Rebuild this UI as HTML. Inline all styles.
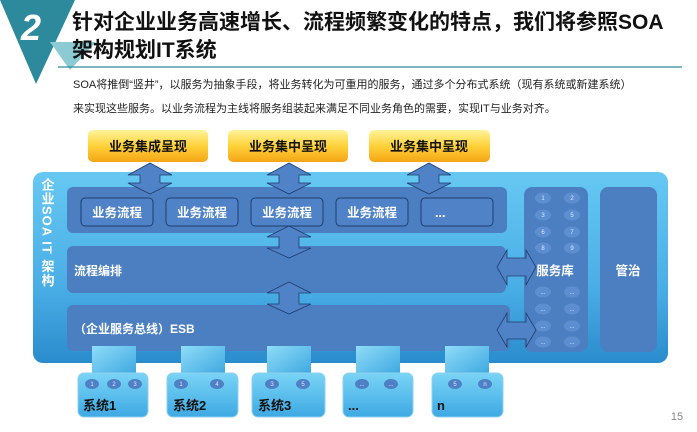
<!DOCTYPE html>
<html><head><meta charset="utf-8"><style>
body{margin:0;width:697px;height:427px;overflow:hidden;background:#fff;font-family:"Liberation Sans","Noto Sans CJK SC",sans-serif;}
svg text{font-family:"Liberation Sans","Noto Sans CJK SC",sans-serif;}
</style></head><body>
<svg width="697" height="427" viewBox="0 0 697 427" xmlns="http://www.w3.org/2000/svg">
<defs>
<linearGradient id="outer" x1="0" y1="0" x2="0" y2="1">
<stop offset="0" stop-color="#66c8f2"/><stop offset="0.6" stop-color="#4aaee6"/><stop offset="1" stop-color="#2a8ccc"/></linearGradient>
<linearGradient id="yel" x1="0" y1="0" x2="0" y2="1">
<stop offset="0" stop-color="#fff39a"/><stop offset="0.5" stop-color="#ffd23a"/><stop offset="1" stop-color="#f5a516"/></linearGradient>
<linearGradient id="sys" x1="0" y1="0" x2="0" y2="1">
<stop offset="0" stop-color="#7ad4f6"/><stop offset="1" stop-color="#3ea9e3"/></linearGradient>
<linearGradient id="con" x1="0" y1="0" x2="1" y2="1">
<stop offset="0" stop-color="#8fdcf8"/><stop offset="1" stop-color="#3ba6e0"/></linearGradient>
</defs>
<polygon points="0,0 75,0 36,84" fill="#2d8a9c"/>
<polygon points="50,42 96,42 70,70" fill="#8ccad4"/>
<text x="21" y="40" font-size="36" font-weight="bold" font-style="italic" fill="#fff">2</text>
<text x="72" y="29" font-size="21" font-weight="bold" fill="#111">针对企业业务高速增长、流程频繁变化的特点，我们将参照SOA</text>
<text x="72" y="57" font-size="21" font-weight="bold" fill="#111">架构规划IT系统</text>
<line x1="58" y1="67" x2="682" y2="67" stroke="#2d8a9c" stroke-width="1.2"/>
<text x="73" y="88" font-size="11" fill="#222">SOA将推倒“竖井”，以服务为抽象手段，将业务转化为可重用的服务，通过多个分布式系统（现有系统或新建系统）</text>
<text x="73" y="112" font-size="11" fill="#222">来实现这些服务。以业务流程为主线将服务组装起来满足不同业务角色的需要，实现IT与业务对齐。</text>
<g font-size="13" font-weight="bold" fill="#111" text-anchor="middle">
<rect x="88" y="130" width="120" height="32" rx="5" fill="url(#yel)"/><text x="148" y="151">业务集成呈现</text>
<rect x="228" y="130" width="120" height="32" rx="5" fill="url(#yel)"/><text x="288" y="151">业务集中呈现</text>
<rect x="369" y="130" width="121" height="32" rx="5" fill="url(#yel)"/><text x="429" y="151">业务集中呈现</text>
</g>
<rect x="33" y="172" width="635" height="191" rx="10" fill="url(#outer)"/>
<text x="47" y="178" font-size="13" font-weight="bold" fill="#fff" style="writing-mode:vertical-rl;letter-spacing:1px">企业SOA IT 架构</text>
<rect x="67" y="187" width="440" height="46" rx="6" fill="#4c7fc2"/>
<rect x="67" y="246" width="439" height="47" rx="6" fill="#4c7fc2"/>
<rect x="67" y="305" width="443" height="46" rx="6" fill="#4c7fc2"/>
<rect x="524" y="187" width="64" height="165" rx="8" fill="#4c7fc2"/>
<rect x="600" y="187" width="57" height="165" rx="8" fill="#4c7fc2"/>
<g font-size="12.5" font-weight="bold" fill="#fff" text-anchor="middle">
<rect x="81" y="198" width="72" height="28" rx="4" fill="#4f82c6" stroke="#1f3e6e"/><text x="117" y="217">业务流程</text>
<rect x="166" y="198" width="72" height="28" rx="4" fill="#4f82c6" stroke="#1f3e6e"/><text x="202" y="217">业务流程</text>
<rect x="251" y="198" width="72" height="28" rx="4" fill="#4f82c6" stroke="#1f3e6e"/><text x="287" y="217">业务流程</text>
<rect x="336" y="198" width="72" height="28" rx="4" fill="#4f82c6" stroke="#1f3e6e"/><text x="372" y="217">业务流程</text>
<rect x="421" y="198" width="72" height="28" rx="4" fill="#4f82c6" stroke="#1f3e6e"/><text x="435" y="217" text-anchor="start">...</text>
<text x="555" y="275">服务库</text>
<text x="628" y="275">管治</text>
</g>
<g font-size="12" font-weight="bold" fill="#fff">
<text x="74" y="275">流程编排</text>
<text x="74" y="333">（企业服务总线）ESB</text>
</g>
<g font-size="6" fill="#dfeaff" text-anchor="middle">
<g fill="#5d8fd0">
<ellipse cx="543" cy="198" rx="8" ry="5.5"/><ellipse cx="572" cy="198" rx="8" ry="5.5"/>
<ellipse cx="543" cy="215" rx="8" ry="5.5"/><ellipse cx="572" cy="215" rx="8" ry="5.5"/>
<ellipse cx="543" cy="232" rx="8" ry="5.5"/><ellipse cx="572" cy="232" rx="8" ry="5.5"/>
<ellipse cx="543" cy="248" rx="8" ry="5.5"/><ellipse cx="572" cy="248" rx="8" ry="5.5"/>
<ellipse cx="543" cy="292" rx="8" ry="5.5"/><ellipse cx="572" cy="292" rx="8" ry="5.5"/>
<ellipse cx="543" cy="309" rx="8" ry="5.5"/><ellipse cx="572" cy="309" rx="8" ry="5.5"/>
<ellipse cx="543" cy="326" rx="8" ry="5.5"/><ellipse cx="572" cy="326" rx="8" ry="5.5"/>
<ellipse cx="543" cy="342" rx="8" ry="5.5"/><ellipse cx="572" cy="342" rx="8" ry="5.5"/>
</g>
<text x="543" y="200">1</text><text x="572" y="200">2</text>
<text x="543" y="217">3</text><text x="572" y="217">5</text>
<text x="543" y="234">6</text><text x="572" y="234">7</text>
<text x="543" y="250">8</text><text x="572" y="250">9</text>
<text x="543" y="294">...</text><text x="572" y="294">...</text>
<text x="543" y="311">...</text><text x="572" y="311">...</text>
<text x="543" y="328">...</text><text x="572" y="328">...</text>
<text x="543" y="344">...</text><text x="572" y="344">...</text>
</g>
<g fill="#4f82c6" stroke="#1f3e6e" stroke-width="0.8">
<polygon points="140,175 128,175 150,163 172,175 160,175 160,183 172,183 150,194 128,183 140,183"/>
<polygon points="279,175 267,175 289,163 311,175 299,175 299,183 311,183 289,194 267,183 279,183"/>
<polygon points="419,175 407,175 429,163 451,175 439,175 439,183 451,183 429,194 407,183 419,183"/>
<polygon points="279,237 267,237 289,226 311,237 299,237 299,248 311,248 289,258 267,248 279,248"/>
<polygon points="279,293 267,293 289,282 311,293 299,293 299,304 311,304 289,314 267,304 279,304"/>
<polygon points="507,258 507,250 497,267 507,285 507,276 526,276 526,285 536,267 526,250 526,258"/>
<polygon points="507,322 507,313 497,330 507,347 507,339 526,339 526,347 536,330 526,313 526,322"/>
</g>
<g>
<rect x="92" y="346" width="44" height="30" fill="url(#con)"/>
<rect x="181" y="346" width="44" height="30" fill="url(#con)"/>
<rect x="267" y="346" width="44" height="30" fill="url(#con)"/>
<rect x="356" y="346" width="44" height="30" fill="url(#con)"/>
<rect x="445" y="346" width="44" height="30" fill="url(#con)"/>
<rect x="78" y="373" width="70" height="44" rx="6" fill="url(#sys)" stroke="#8fd0ef"/>
<rect x="167" y="373" width="71" height="44" rx="6" fill="url(#sys)" stroke="#8fd0ef"/>
<rect x="252" y="373" width="73" height="44" rx="6" fill="url(#sys)" stroke="#8fd0ef"/>
<rect x="343" y="373" width="70" height="44" rx="6" fill="url(#sys)" stroke="#8fd0ef"/>
<rect x="432" y="373" width="71" height="44" rx="6" fill="url(#sys)" stroke="#8fd0ef"/>
</g>
<g fill="#4f7fc4">
<ellipse cx="92" cy="384" rx="7" ry="5"/><ellipse cx="114" cy="384" rx="7" ry="5"/><ellipse cx="135" cy="384" rx="7" ry="5"/>
<ellipse cx="181" cy="384" rx="7" ry="5"/><ellipse cx="217" cy="384" rx="7" ry="5"/>
<ellipse cx="272" cy="384" rx="7" ry="5"/><ellipse cx="303" cy="384" rx="7" ry="5"/>
<ellipse cx="362" cy="384" rx="7" ry="5"/><ellipse cx="391" cy="384" rx="7" ry="5"/>
<ellipse cx="455" cy="384" rx="7" ry="5"/><ellipse cx="485" cy="384" rx="7" ry="5"/>
</g>
<g font-size="6" fill="#dfeaff" text-anchor="middle">
<text x="92" y="386">1</text><text x="114" y="386">2</text><text x="135" y="386">3</text>
<text x="181" y="386">1</text><text x="217" y="386">4</text>
<text x="272" y="386">3</text><text x="303" y="386">5</text>
<text x="362" y="386">...</text><text x="391" y="386">...</text>
<text x="455" y="386">5</text><text x="485" y="386">n</text>
</g>
<g font-size="13" font-weight="bold" fill="#111">
<text x="83" y="410">系统1</text><text x="173" y="410">系统2</text><text x="258" y="410">系统3</text>
<text x="348" y="410">...</text><text x="437" y="410">n</text>
</g>
<text x="677" y="420" font-size="11" fill="#888" text-anchor="middle">15</text>
</svg>
</body></html>
